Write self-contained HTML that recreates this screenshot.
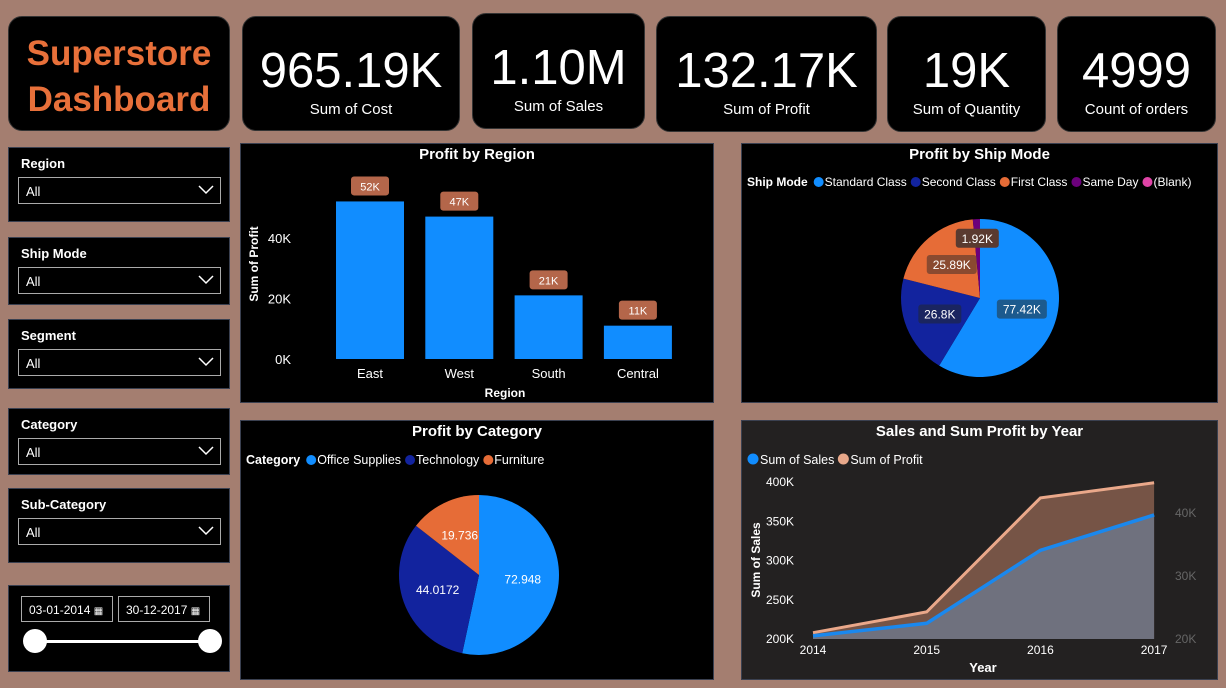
<!DOCTYPE html>
<html><head><meta charset="utf-8">
<style>
*{box-sizing:border-box;margin:0;padding:0}
body{width:1226px;height:688px;background:#a47e70;font-family:"Liberation Sans","DejaVu Sans",sans-serif;position:relative;overflow:hidden;color:#fff}
.card{position:absolute;background:#000;border-radius:14px;border:1px solid #333;text-align:center}
.card .v{font-size:49px;font-weight:400;margin-top:26px;line-height:56px}
.card .l{font-size:15px;margin-top:2px}
.slicer{position:absolute;left:8px;width:222px;background:#000;border:1px solid #3a4050}
.slicer .t{position:absolute;left:12px;top:8px;font-size:13px;font-weight:bold}
.slicer .dd{position:absolute;left:9px;top:29px;width:203px;height:27px;border:1px solid #aaa;font-size:13px;padding:6px 0 0 7px}
.slicer .dd svg{position:absolute;right:6px;top:7px}
.panel{position:absolute;background:#000;border:1px solid #3a4050}
.ptitle{position:absolute;left:0;right:0;text-align:center;font-size:15px;font-weight:bold;top:2px}
svg text{font-family:"Liberation Sans",sans-serif}
</style></head><body>
<div class="card" style="left:8px;top:16px;width:222px;height:115px;text-align:center">
<div style="color:#e8703a;font-weight:bold;font-size:35px;line-height:46px;margin-top:14px">Superstore<br>Dashboard</div></div>
<div class="card" style="left:242px;top:16px;width:218px;height:115px"><div class="v">965.19K</div><div class="l">Sum of Cost</div></div>
<div class="card" style="left:472px;top:13px;width:173px;height:116px"><div class="v">1.10M</div><div class="l">Sum of Sales</div></div>
<div class="card" style="left:656px;top:16px;width:221px;height:116px"><div class="v">132.17K</div><div class="l">Sum of Profit</div></div>
<div class="card" style="left:887px;top:16px;width:159px;height:116px"><div class="v">19K</div><div class="l">Sum of Quantity</div></div>
<div class="card" style="left:1057px;top:16px;width:159px;height:116px"><div class="v">4999</div><div class="l">Count of orders</div></div>

<div class="slicer" style="top:147px;height:75px"><div class="t">Region</div><div class="dd">All<svg width="16" height="10"><path d="M1 1 L8 8 L15 1" stroke="#fff" fill="none" stroke-width="1.5"/></svg></div></div>
<div class="slicer" style="top:237px;height:68px"><div class="t">Ship Mode</div><div class="dd">All<svg width="16" height="10"><path d="M1 1 L8 8 L15 1" stroke="#fff" fill="none" stroke-width="1.5"/></svg></div></div>
<div class="slicer" style="top:319px;height:70px"><div class="t">Segment</div><div class="dd">All<svg width="16" height="10"><path d="M1 1 L8 8 L15 1" stroke="#fff" fill="none" stroke-width="1.5"/></svg></div></div>
<div class="slicer" style="top:408px;height:67px"><div class="t">Category</div><div class="dd">All<svg width="16" height="10"><path d="M1 1 L8 8 L15 1" stroke="#fff" fill="none" stroke-width="1.5"/></svg></div></div>
<div class="slicer" style="top:488px;height:75px"><div class="t">Sub-Category</div><div class="dd">All<svg width="16" height="10"><path d="M1 1 L8 8 L15 1" stroke="#fff" fill="none" stroke-width="1.5"/></svg></div></div>
<div class="slicer" style="top:585px;height:87px">
<div style="position:absolute;left:12px;top:10px;width:92px;height:26px;border:1px solid #aaa;font-size:12px;padding:6px 0 0 7px">03-01-2014 <span style="font-size:10px">▦</span></div>
<div style="position:absolute;left:109px;top:10px;width:92px;height:26px;border:1px solid #aaa;font-size:12px;padding:6px 0 0 7px">30-12-2017 <span style="font-size:10px">▦</span></div>
<div style="position:absolute;left:26px;top:54px;width:175px;height:3px;background:#fff"></div>
<div style="position:absolute;left:14px;top:43px;width:24px;height:24px;border-radius:50%;background:#fff"></div>
<div style="position:absolute;left:189px;top:43px;width:24px;height:24px;border-radius:50%;background:#fff"></div>
</div>

<div class="panel" style="left:240px;top:143px;width:474px;height:260px">
<div class="ptitle">Profit by Region</div>
<svg id="bar" width="474" height="260" style="position:absolute;left:0;top:0"></svg></div>

<div class="panel" style="left:741px;top:143px;width:477px;height:260px">
<div class="ptitle">Profit by Ship Mode</div>
<svg id="ship" width="477" height="260" style="position:absolute;left:0;top:0"></svg></div>

<div class="panel" style="left:240px;top:420px;width:474px;height:260px">
<div class="ptitle">Profit by Category</div>
<svg id="cat" width="474" height="260" style="position:absolute;left:0;top:0"></svg></div>

<div class="panel" style="left:741px;top:420px;width:477px;height:260px;background:#232121">
<div class="ptitle">Sales and Sum Profit by Year</div>
<svg id="line" width="477" height="260" style="position:absolute;left:0;top:0"></svg></div>

<script>
const regions=["East","West","South","Central"];
const regionProfit=[52,47,21,11];
const regionLabels=["52K","47K","21K","11K"];
const regionTicks=[0,20,40];
const shipModes=["Standard Class","Second Class","First Class","Same Day","(Blank)"];
const shipProfit=[77.42,26.8,25.89,1.92,0];
const shipLabels=["77.42K","26.8K","25.89K","1.92K",""];
const categories=["Office Supplies","Technology","Furniture"];
const catProfit=[72.948,44.0172,19.736];
const catLabels=["72.948","44.0172","19.736"];
const years=["2014","2015","2016","2017"];
const salesK=[204,220,313,358];
const profitK=[21,24.3,42.4,44.8];
const salesTicks=[200,250,300,350,400];
const profitTicks=[20,30,40];

const NS="http://www.w3.org/2000/svg";
function mk(svg,tag,attrs,txt){const e=document.createElementNS(NS,tag);for(const k in attrs)e.setAttribute(k,attrs[k]);if(txt!==undefined)e.textContent=txt;svg.appendChild(e);return e;}

(function(){
const s=document.getElementById('bar');
const y=v=>215-v*3.03, x0=95, step=89.3, bw=68;
regionTicks.forEach(t=>{const e=mk(s,'text',{x:50,y:y(t)+5,fill:'#fff','font-size':13,'text-anchor':'end'},t+'K');

});
const yt=mk(s,'text',{x:17,y:120,fill:'#fff','font-size':12,'font-weight':'bold','text-anchor':'middle',transform:'rotate(-90 17 120)'},'Sum of Profit');


regions.forEach((r,i)=>{const bx=x0+i*step;
const b=mk(s,'rect',{x:bx,y:y(regionProfit[i]),width:bw,height:regionProfit[i]*3.03,fill:'#118dff'});


const lb=mk(s,'rect',{x:bx+bw/2-19,y:y(regionProfit[i])-25,width:38,height:19,rx:3,fill:'#b4664a'});


const lt=mk(s,'text',{x:bx+bw/2,y:y(regionProfit[i])-11,fill:'#fff','font-size':11,'text-anchor':'middle'},regionLabels[i]);


const xt=mk(s,'text',{x:bx+bw/2,y:234,fill:'#fff','font-size':13,'text-anchor':'middle'},r);

});
const xa=mk(s,'text',{x:264,y:253,fill:'#fff','font-size':12,'font-weight':'bold','text-anchor':'middle'},'Region');


})();

function pie(svg,cx,cy,r,vals,cols,labels,names,labelBg){
const tot=vals.reduce((a,b)=>a+b,0);let a=0;
vals.forEach((v,i)=>{if(v<=0)return;const a1=a+v/tot*2*Math.PI;
const p=ang=>[cx+r*Math.sin(ang),cy-r*Math.cos(ang)];
const [x1,y1]=p(a),[x2,y2]=p(a1);
const sl=mk(svg,'path',{d:`M${cx} ${cy} L${x1} ${y1} A${r} ${r} 0 ${a1-a>Math.PI?1:0} 1 ${x2} ${y2} Z`,fill:cols[i]});


if(labels[i]){const m=(a+a1)/2;let rr=v/tot<0.05?r*0.75:r*0.55;
const lx=cx+rr*Math.sin(m),ly=cy-rr*Math.cos(m);
if(labelBg){const w=labels[i].length*7+8;const bg=mk(svg,'rect',{x:lx-w/2,y:ly-10,width:w,height:19,rx:3,fill:labelBg[i]});

}
const t=mk(svg,'text',{x:lx,y:ly+4,fill:'#fff','font-size':12,'text-anchor':'middle'},labels[i]);

}
a=a1;});}

function legend(svg,x,y,title,names,cols,fs){
const t=mk(svg,'text',{x:x,y:y,fill:'#fff','font-size':fs,'font-weight':'bold'},title);


let cx=x+t.getComputedTextLength()+6;
names.forEach((n,i)=>{const c=mk(svg,'circle',{cx:cx+5,cy:y-4,r:5,fill:cols[i]});


const tt=mk(svg,'text',{x:cx+11,y:y,fill:'#fff','font-size':fs},n);


cx+=11+tt.getComputedTextLength()+4;});}

(function(){const s=document.getElementById('ship');
const cols=['#118dff','#12239e','#e66c37','#6b007b','#e044a7'];
legend(s,5,42,'Ship Mode',shipModes,cols,12);
pie(s,238,154,79,shipProfit,cols,shipLabels,shipModes,['#1c5a8e','#1a2560','#8a4a30','#5a3a30','']);})();

(function(){const s=document.getElementById('cat');
const cols=['#118dff','#12239e','#e66c37'];
legend(s,5,43,'Category',categories,cols,12.5);
pie(s,238,154,80,catProfit,cols,catLabels,categories,null);})();

(function(){const s=document.getElementById('line');
const x=i=>71+i*113.7, ys=v=>218-(v-200)*0.785, yp=v=>218-(v-20)*6.3;
const lg=[['Sum of Sales','#118dff'],['Sum of Profit','#e8a88a']];let lx=5;
lg.forEach(([n,c])=>{const m=mk(s,'circle',{cx:lx+6,cy:38,r:5.5,fill:c});


const t=mk(s,'text',{x:lx+13,y:43,fill:'#fff','font-size':12.5},n);

lx+=13+t.getComputedTextLength()+3;});
salesTicks.forEach(v=>{const t=mk(s,'text',{x:52,y:ys(v)+4,fill:'#fff','font-size':12,'text-anchor':'end'},v+'K');

});
profitTicks.forEach(v=>{const t=mk(s,'text',{x:433,y:yp(v)+4,fill:'#666','font-size':12},v+'K');

});
const pp=profitK.map((v,i)=>x(i)+','+yp(v)).join(' ');
const sp=salesK.map((v,i)=>x(i)+','+ys(v)).join(' ');
const pa=mk(s,'polygon',{points:pp+` ${x(3)},218 ${x(0)},218`,fill:'#765446'});


const sa=mk(s,'polygon',{points:sp+` ${x(3)},218 ${x(0)},218`,fill:'#6f717e'});


const pl=mk(s,'polyline',{points:pp,fill:'none',stroke:'#eaa88a','stroke-width':3});


const sl=mk(s,'polyline',{points:sp,fill:'none',stroke:'#1a88ee','stroke-width':3.5});


years.forEach((y,i)=>{const t=mk(s,'text',{x:x(i),y:233,fill:'#fff','font-size':12,'text-anchor':'middle'},y);

});
const xt=mk(s,'text',{x:241,y:251,fill:'#fff','font-size':13,'font-weight':'bold','text-anchor':'middle'},'Year');


const yt=mk(s,'text',{x:18,y:139,fill:'#fff','font-size':12,'font-weight':'bold','text-anchor':'middle',transform:'rotate(-90 18 139)'},'Sum of Sales');


})();
</script>
</body></html>
